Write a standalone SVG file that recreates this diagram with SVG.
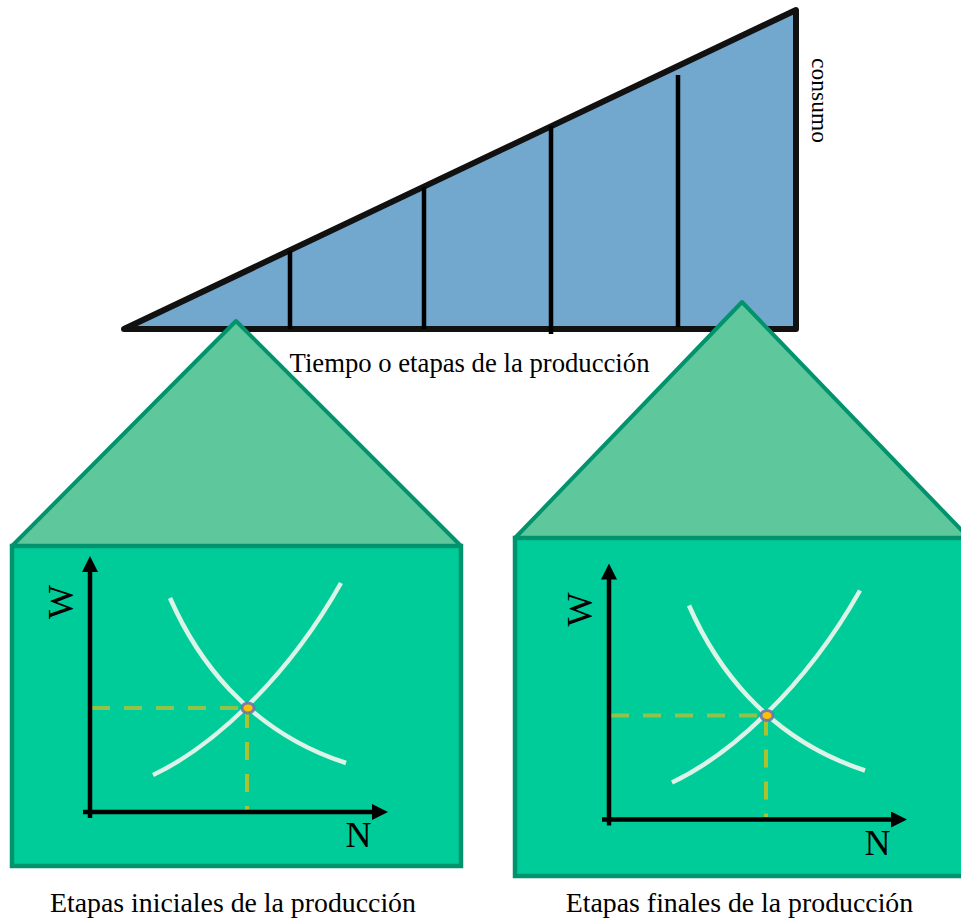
<svg xmlns="http://www.w3.org/2000/svg" width="961" height="919" viewBox="0 0 961 919">
<style>
.tri{fill:#72A7CE;stroke:#111;stroke-width:6;stroke-linejoin:round;stroke-linecap:round}
.div{stroke:#000;stroke-width:4.5}
.roof{fill:#5EC89C;stroke:#00936C;stroke-width:4;stroke-linejoin:round}
.body{fill:#00CC99;stroke:#00936E;stroke-width:4.5}
.axis{stroke:#000;stroke-width:4.5;fill:none}
.curve{stroke:#DCF3E8;stroke-width:4.5;fill:none}
.dh{stroke:#8EC449;stroke-width:4;stroke-dasharray:18 14;fill:none}
.dv{stroke:#A9C22E;stroke-width:4;stroke-dasharray:18 14;fill:none}
.dot{fill:#FFC000;stroke:#6A70B2;stroke-width:3;stroke-opacity:0.85}
.t{font-family:"Liberation Serif","Times New Roman",serif;fill:#000}
</style>
<defs>
<marker id="arrow" markerUnits="userSpaceOnUse" markerWidth="16" markerHeight="16" viewBox="0 0 16 16" refX="1" refY="8" orient="auto">
<path d="M0,0 L16,8 L0,16 z" fill="#000"/>
</marker>
<g id="graph">
<path class="dh" d="M92,708 H246"/>
<path class="dv" d="M247,710 V812"/>
<path class="axis" d="M90,818 V571" marker-end="url(#arrow)"/>
<path class="axis" d="M83,812 H373" marker-end="url(#arrow)"/>
<path class="curve" d="M153,775 C210,748 285,682 341,583"/>
<path class="curve" d="M170,598 C195,655 245,730 346,763"/>
<ellipse class="dot" cx="248" cy="708" rx="6" ry="5"/>
<text class="t" font-size="36" transform="translate(73,602) rotate(-90)" text-anchor="middle">W</text>
<text class="t" font-size="36" x="358.5" y="847" text-anchor="middle">N</text>
</g>
</defs>
<g id="triangle">
<path class="tri" d="M124,329 L796,10 L796,329 Z"/>
<path class="div" d="M290,251 V329 M424,187 V329 M551,126 V334 M678,75 V327"/>
<text class="t" font-size="23.5" transform="translate(812,100.5) rotate(90)" text-anchor="middle">consumo</text>
</g>
<g id="house-left">
<path class="roof" d="M236,321 L12,546 L461,546 Z"/>
<rect class="body" x="12" y="546" width="449" height="320"/>
<use href="#graph"/>
<text class="t" font-size="27.8" x="233" y="912" text-anchor="middle">Etapas iniciales de la producción</text>
</g>
<g id="house-right">
<path class="roof" d="M742,302 L515,538 L969,538 Z"/>
<rect class="body" x="515" y="538" width="456" height="338"/>
<use href="#graph" transform="translate(519,7.5)"/>
<text class="t" font-size="27.8" x="739.5" y="912" text-anchor="middle">Etapas finales de la producción</text>
</g>
<g id="axis-label">
<text class="t" font-size="26.7" x="469.5" y="372" text-anchor="middle">Tiempo o etapas de la producción</text>
</g>
<g id="connectors"></g>
</svg>
